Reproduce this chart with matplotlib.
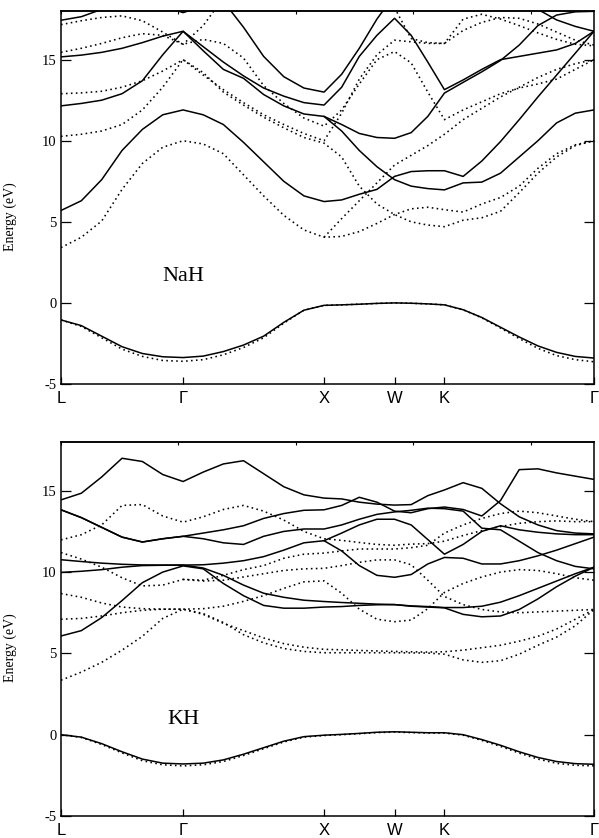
import numpy as np
import matplotlib
matplotlib.use('Agg')
import matplotlib.pyplot as plt

plt.rcParams['axes.unicode_minus'] = False
nan = np.nan

# k-path: L-Γ, Γ-X, X-W, W-K, K-Γ (lengths in 2π/a)
segment_lengths = [0.866, 1.0, 0.5, 0.354, 1.061]
segment_steps = [6, 7, 4, 3, 8]
kpoint_labels = ['L', 'Γ', 'X', 'W', 'K', 'Γ']
yticks = [-5, 0, 5, 10, 15]

# ---------------- NaH (top) ----------------
nah_val_solid = [-1.05, -1.4, -2.05, -2.7, -3.12, -3.32, -3.37,
                 -3.28, -3.0, -2.6, -2.05, -1.2, -0.45, -0.15,
                 -0.12, -0.08, -0.03, 0.0,
                 -0.02, -0.06, -0.12,
                 -0.42, -0.9, -1.5, -2.1, -2.65, -3.05, -3.3, -3.4]
nah_val_dot = [-1.05, -1.45, -2.15, -2.85, -3.3, -3.55, -3.6,
               -3.5, -3.2, -2.75, -2.15, -1.25, -0.45, -0.15,
               -0.12, -0.08, -0.03, 0.0,
               -0.02, -0.06, -0.12,
               -0.42, -0.92, -1.55, -2.2, -2.8, -3.25, -3.5, -3.63]
nah_s1 = [5.7, 6.3, 7.6, 9.4, 10.7, 11.6, 11.9,
          11.6, 11.0, 9.9, 8.7, 7.5, 6.6, 6.25,
          6.35, 6.7, 7.0, 7.8,
          8.1, 8.15, 8.15,
          7.8, 8.75, 9.95, 11.3, 12.7, 14.05, 15.4, 16.75]
nah_s2 = [12.15, 12.3, 12.5, 12.9, 13.7, 15.3, 16.75,
          15.55, 14.4, 13.85, 12.85, 12.15, 11.65, 11.5,
          10.6, 9.4, 8.4, 7.6,
          7.2, 7.05, 6.97,
          7.4, 7.45, 8.0, 9.0, 10.0, 11.1, 11.7, 11.9]
nah_s3 = [15.17, 15.28, 15.45, 15.7, 16.05, 16.45, 16.75,
          15.8, 14.85, 14.0, 13.25, 12.75, 12.35, 12.2,
          13.3, 15.2, 16.5, 17.55,
          16.5, 14.85, 13.15,
          13.75, 14.4, 15.0, 15.2, 15.4, 15.6, 16.0, 16.75]
nah_s4 = [nan, nan, nan, nan, nan, nan, 18.5,
          18.8, 18.6, 17.0, 15.2, 13.95, 13.25, 13.0,
          14.1, 15.7, 17.5, 19.0,
          19.5, 19.5, 19.5,
          19.3, 19.0, 18.8, 18.5, 18.1, 17.45, 17.05, 16.75]
nah_s5 = [nan, nan, nan, nan, nan, nan, nan,
          nan, nan, nan, nan, nan, nan, 11.5,
          11.0, 10.45, 10.2, 10.15,
          10.5, 11.5, 12.94,
          13.6, 14.25, 14.95, 15.9, 17.1, 17.75, 17.95, 17.98]
nah_s6 = [17.43, 17.65, 18.1, 18.5, 18.6, 18.3, 17.9,
          18.3, 18.8, nan, nan, nan, nan, nan,
          nan, nan, nan, nan,
          nan, nan, nan,
          nan, nan, nan, nan, nan, nan, nan, nan]
nah_d1 = [3.41, 4.05, 5.05, 7.0, 8.6, 9.6, 10.0,
          9.8, 9.2, 7.9, 6.6, 5.4, 4.5, 4.05,
          4.1, 4.4, 4.9, 5.45,
          5.8, 5.9, 5.75,
          5.6, 6.1, 6.5, 7.2, 8.3, 9.2, 9.75, 10.0]
nah_d2 = [10.27, 10.4, 10.6, 11.0, 11.9, 13.3, 15.0,
          14.2, 13.0, 12.2, 11.45, 10.8, 10.2, 9.85,
          9.0, 7.2, 6.1, 5.45,
          5.0, 4.8, 4.7,
          5.1, 5.25, 5.65, 6.8, 8.0, 9.0, 9.7, 10.0]
nah_d3 = [12.9, 12.95, 13.05, 13.3, 13.7, 14.3, 15.0,
          14.05, 13.15, 12.35, 11.6, 11.0, 10.45, 10.0,
          11.7, 13.8, 15.3, 16.2,
          16.1, 16.0, 16.0,
          17.5, 17.8, 17.5, 17.1, 16.65, 16.25, 15.95, 15.85]
nah_d4 = [15.45, 15.7, 16.0, 16.35, 16.6, 16.5, 15.95,
          16.25, 16.0, 15.1, 13.4, 12.3, 11.4, 10.9,
          11.9, 13.5, 15.0, 15.5,
          14.8, 13.0, 11.3,
          11.9, 12.4, 12.9, 13.25, 13.5, 13.8, 14.4, 15.0]
nah_d5 = [17.16, 17.4, 17.6, 17.7, 17.4, 16.7, 15.95,
          17.1, 18.8, nan, nan, nan, nan, nan,
          nan, nan, nan, nan,
          nan, nan, nan,
          nan, nan, nan, nan, nan, nan, nan, nan]
nah_d6 = [nan, nan, nan, nan, nan, nan, nan,
          nan, nan, nan, nan, nan, nan, nan,
          nan, nan, 19.0, 18.2,
          16.3, 16.05, 16.0,
          16.8, 17.3, 17.6, 17.55, 17.2, 16.7, 16.2, 15.9]
nah_d7 = [nan, nan, nan, nan, nan, nan, nan,
          nan, nan, nan, nan, nan, nan, 4.05,
          5.2, 6.3, 7.4, 8.5,
          9.1, 9.7, 10.4,
          11.3, 12.0, 12.7, 13.3, 13.9, 14.4, 14.75, 15.0]

# ---------------- KH (bottom) ----------------
kh_val_solid = [0.0, -0.15, -0.55, -1.05, -1.5, -1.75, -1.8,
                -1.75, -1.55, -1.2, -0.8, -0.4, -0.12, -0.03,
                0.02, 0.08, 0.15, 0.18,
                0.15, 0.12, 0.12,
                0.0, -0.3, -0.65, -1.05, -1.4, -1.65, -1.78, -1.82]
kh_val_dot = [0.0, -0.17, -0.6, -1.12, -1.6, -1.85, -1.92,
              -1.85, -1.65, -1.28, -0.86, -0.45, -0.15, -0.05,
              0.0, 0.06, 0.13, 0.16,
              0.13, 0.1, 0.1,
              -0.03, -0.35, -0.72, -1.13, -1.5, -1.76, -1.88, -1.92]
kh_s1 = [14.44, 14.85, 15.85, 17.0, 16.8, 16.0, 15.57,
         16.15, 16.65, 16.85, 16.05, 15.25, 14.75, 14.55,
         14.5, 14.3, 14.18, 14.12,
         14.15, 14.7, 15.05,
         15.5, 15.15, 14.2, 13.4, 12.9, 12.55, 12.4, 12.35]
kh_s2 = [13.83, 13.35, 12.75, 12.15, 11.85, 12.05, 12.2,
         12.4, 12.6, 12.85, 13.3, 13.6, 13.8, 13.83,
         14.1, 14.6, 14.3, 13.75,
         13.65, 13.9, 14.0,
         13.85, 13.45, 14.4, 16.3, 16.35, 16.1, 15.9, 15.7]
kh_s3 = [13.83, 13.35, 12.75, 12.15, 11.85, 12.05, 12.2,
         12.05, 11.8, 11.7, 12.2, 12.5, 12.65, 12.65,
         12.9, 13.25, 13.55, 13.7,
         13.8, 13.93, 13.9,
         13.75, 12.7, 12.6, 11.9, 11.2, 10.7, 10.35, 10.2]
kh_s4 = [10.76, 10.65, 10.55, 10.48, 10.44, 10.43, 10.43,
         10.45, 10.55, 10.7, 10.95, 11.35, 11.8, 11.93,
         11.3, 10.4, 9.8, 9.68,
         9.85, 10.5, 10.9,
         10.85, 10.5, 10.5, 10.7, 11.0, 11.35, 11.75, 12.15]
kh_s5 = [9.98, 10.05, 10.15, 10.3, 10.4, 10.42, 10.43,
         10.25, 9.8, 9.2, 8.7, 8.45, 8.27, 8.19,
         8.13, 8.08, 8.03, 8.0,
         7.92, 7.88, 7.82,
         7.82, 7.9, 8.15, 8.55, 9.0, 9.45, 9.9, 10.3]
kh_s6 = [6.07, 6.4, 7.2, 8.25, 9.35, 10.0, 10.38,
         10.2, 9.3, 8.55, 7.95, 7.78, 7.78, 7.85,
         7.88, 7.95, 7.99, 8.0,
         7.9, 7.85, 7.8,
         7.4, 7.25, 7.3, 7.7, 8.35, 9.1, 9.75, 10.3]
kh_s7 = [nan, nan, nan, nan, nan, nan, nan,
         nan, nan, nan, nan, nan, nan, 11.93,
         12.4, 12.9, 13.25, 13.25,
         12.9, 12.0, 11.1,
         11.7, 12.5, 12.85, 12.6, 12.45, 12.35, 12.3, 12.3]
kh_d1 = [3.35, 3.85, 4.45, 5.2, 6.05, 7.15, 7.72,
         7.4, 6.85, 6.4, 5.95, 5.6, 5.38, 5.25,
         5.22, 5.18, 5.15, 5.12,
         5.1, 5.08, 5.1,
         5.2, 5.35, 5.5, 5.75, 6.05, 6.5, 7.1, 7.7]
kh_d2 = [7.1, 7.15, 7.3, 7.5, 7.65, 7.72, 7.72,
         7.45, 6.9, 6.15, 5.65, 5.3, 5.12, 5.04,
         5.04, 5.04, 5.04, 5.04,
         5.03, 5.02, 4.95,
         4.6, 4.45, 4.55, 4.95, 5.5, 6.0, 6.7, 7.7]
kh_d3 = [8.68, 8.45, 8.1, 7.85, 7.75, 7.72, 7.72,
         7.75, 7.9, 8.2, 8.55, 9.0, 9.4, 9.46,
         8.7, 7.72, 7.1, 6.95,
         7.05, 7.75, 8.75,
         9.3, 9.7, 10.0, 10.15, 10.1, 9.9, 9.65, 9.5]
kh_d4 = [11.2, 10.8, 10.3, 9.65, 9.15, 9.2, 9.55,
         9.5, 9.8, 10.15, 10.4, 10.85, 11.1, 11.17,
         11.3, 11.42, 11.42, 11.42,
         11.5, 11.65, 12.4,
         12.9, 13.3, 13.6, 13.75, 13.65, 13.45, 13.25, 13.1]
kh_d5 = [nan, nan, nan, nan, nan, nan, 9.55,
         9.45, 9.5, 9.7, 9.9, 10.1, 10.2, 10.23,
         10.4, 10.6, 10.75, 10.75,
         10.45, 9.5, 8.5,
         8.0, 7.7, 7.55, 7.5, 7.55, 7.6, 7.65, 7.7]
kh_d6 = [11.98, 12.3, 12.9, 14.1, 14.15, 13.45, 13.07,
         13.4, 13.85, 14.1, 13.75, 13.2, 12.5, 12.05,
         11.95, 11.82, 11.7, 11.65,
         11.72, 11.75, 11.9,
         12.25, 12.55, 12.8, 13.0, 13.1, 13.15, 13.1, 13.1]

panels = [
    dict(name='NaH', label_y=1.64,
         solid=[nah_val_solid, nah_s1, nah_s2, nah_s3, nah_s4, nah_s5, nah_s6],
         dotted=[nah_val_dot, nah_d1, nah_d2, nah_d3, nah_d4, nah_d5, nah_d6, nah_d7]),
    dict(name='KH', label_y=0.93,
         solid=[kh_val_solid, kh_s1, kh_s2, kh_s3, kh_s4, kh_s5, kh_s6, kh_s7],
         dotted=[kh_val_dot, kh_d1, kh_d2, kh_d3, kh_d4, kh_d5, kh_d6]),
]

# build k grid
k_nodes = np.concatenate([[0.0], np.cumsum(segment_lengths)])
k = [0.0]
for a, b, n in zip(k_nodes[:-1], k_nodes[1:], segment_steps):
    k.extend(np.linspace(a, b, n + 1)[1:])
k = np.array(k)

W, H = 599, 838
fig = plt.figure(figsize=(W / 100, H / 100), dpi=100)
axes_px = [(61, 11, 594, 384), (61, 442, 594, 816)]

serif = 'Liberation Serif'
sans = 'Liberation Sans'

for (x0, y0, x1, y1), p in zip(axes_px, panels):
    ax = fig.add_axes([x0 / W, 1 - y1 / H, (x1 - x0) / W, (y1 - y0) / H])
    for band in p['solid']:
        ax.plot(k, np.array(band, dtype=float), color='black', lw=1.1,
                solid_joinstyle='round')
    for band in p['dotted']:
        ax.plot(k, np.array(band, dtype=float), color='black', lw=1.15,
                linestyle=(0, (1, 2.1)))
    ax.set_xlim(k_nodes[0], k_nodes[-1])
    ax.set_ylim(-5, 18)
    ax.set_yticks(yticks)
    ax.set_yticklabels([str(t) for t in yticks], fontfamily=serif, fontsize=10.5)
    ax.set_xticks(k_nodes)
    ax.set_xticklabels(kpoint_labels, fontfamily=sans, fontsize=12)
    ax.tick_params(axis='y', direction='in', length=7.5, width=0.9,
                   right=True, left=True, pad=3)
    ax.tick_params(axis='x', direction='in', length=5, width=0.9,
                   top=False, pad=5)
    sec = ax.secondary_xaxis('top')
    sec.set_xticks(np.arange(0, k_nodes[-1] + 1e-6, 0.8333))
    sec.tick_params(direction='in', length=2.5, width=0.8, labeltop=False)
    for s in sec.spines.values():
        s.set_linewidth(1.1)
    for s in ax.spines.values():
        s.set_linewidth(1.1)
    ax.set_ylabel('Energy (eV)', fontfamily=serif, fontsize=10)
    ax.yaxis.set_label_coords(-0.083, 0.45)
    ax.text(k_nodes[1], p['label_y'], p['name'], ha='center', va='center',
            fontfamily=serif, fontsize=16)

fig.savefig('out.png', dpi=100)
